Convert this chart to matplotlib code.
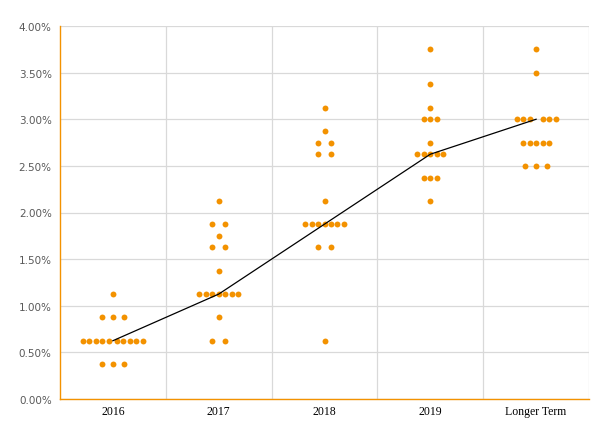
import numpy as np
import matplotlib
matplotlib.use("Agg")
import matplotlib.pyplot as plt
from matplotlib.ticker import PercentFormatter, FixedLocator

categories = ["2016", "2017", "2018", "2019", "Longer Term"]

# (rate %, number of participants) per category
dots_2016 = [(1.125, 1), (0.875, 3), (0.625, 10), (0.375, 3)]
dots_2017 = [(2.125, 1), (1.875, 2), (1.75, 1), (1.625, 2), (1.375, 1),
             (1.125, 7), (0.875, 1), (0.625, 2)]
dots_2018 = [(3.125, 1), (2.875, 1), (2.75, 2), (2.625, 2), (2.125, 1),
             (1.875, 7), (1.625, 2), (0.625, 1)]
dots_2019 = [(3.75, 1), (3.375, 1), (3.125, 1), (3.0, 3), (2.75, 1),
             (2.625, 5), (2.375, 3), (2.125, 1)]
dots_longer = [(3.75, 1), (3.5, 1), (3.0, 6), (2.75, 5), (2.5, 3)]

medians = [0.625, 1.125, 1.875, 2.625, 3.0]

all_dots = [dots_2016, dots_2017, dots_2018, dots_2019, dots_longer]

ORANGE = "#F39200"
GRID = "#D9D9D9"

fig = plt.figure(figsize=(6.16, 4.35), dpi=100)
ax = fig.add_axes([60/616, 1-400/435, (589-60)/616, (400-27)/435])

step = 0.0614
for i, rows in enumerate(all_dots):
    xs, ys = [], []
    for val, n in rows:
        if n % 2 == 1:
            offs = [(k - (n - 1) / 2) for k in range(n)]
            if n == 3 and i in (0, 4):
                offs = [o * 1.75 for o in offs]
        else:
            half = n // 2
            if n >= 8:
                offs = [-(k + 0.62) for k in range(half)] + [(k + 0.62) for k in range(half)]
            else:
                offs = [-(k + 1) for k in range(half)] + [(k + 1) for k in range(half)]
        for o in offs:
            xs.append(i + o * step)
            ys.append(val)
    ax.scatter(xs, ys, s=18, color=ORANGE, zorder=3, linewidths=0)

ax.plot(range(len(categories)), medians, color="black", lw=0.9, zorder=4)

ax.set_xlim(-0.5, 4.5)
ax.set_ylim(0, 4.0)
ax.yaxis.set_major_locator(FixedLocator(np.arange(0, 4.01, 0.5)))
ax.yaxis.set_major_formatter(PercentFormatter(decimals=2))
ax.set_xticks(range(len(categories)))
ax.set_xticklabels(categories, fontfamily="Liberation Serif", fontsize=8.5, color="black")
ax.xaxis.set_minor_locator(FixedLocator([0.5, 1.5, 2.5, 3.5, 4.5]))
ax.tick_params(axis="y", length=0, labelsize=7.5, labelcolor="#595959", pad=6)
ax.tick_params(axis="x", which="both", length=0, pad=4)
ax.grid(axis="y", color=GRID, lw=0.9, zorder=0)
ax.grid(axis="x", which="minor", color=GRID, lw=0.9, zorder=0)
ax.grid(axis="x", which="major", visible=False)
ax.set_axisbelow(True)

for s in ["top", "right"]:
    ax.spines[s].set_visible(False)
ax.spines["left"].set_color(ORANGE)
ax.spines["bottom"].set_color(ORANGE)
ax.spines["left"].set_linewidth(1.0)
ax.spines["bottom"].set_linewidth(1.0)

fig.savefig("out.png", dpi=100)
